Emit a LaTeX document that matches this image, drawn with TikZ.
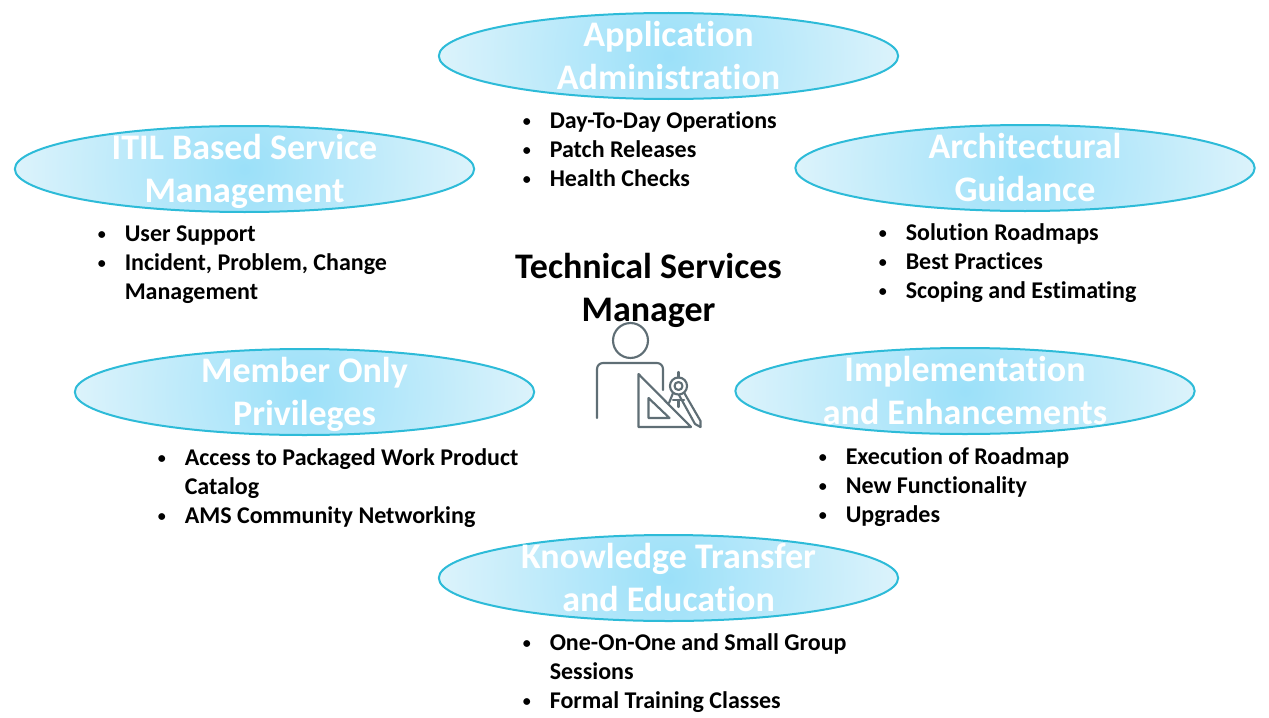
\documentclass[tikz,border=0pt]{standalone}
\usepackage{fontspec}
\setmainfont{Carlito}[Ligatures=NoCommon]
\usetikzlibrary{shapes.geometric}
\definecolor{ovalin}{HTML}{9BE0F9}
\definecolor{ovalout}{HTML}{DCF3FB}
\definecolor{ovalline}{HTML}{2DBBD8}
\definecolor{icongray}{HTML}{5F6E75}
\pgfdeclareradialshading{ovalshade}{\pgfpoint{0bp}{0bp}}{color(0bp)=(ovalin);color(25bp)=(ovalout);color(50bp)=(ovalout)}
\newcommand{\bul}{\makebox[20.25pt][l]{\raisebox{1.2pt}{\fontsize{12}{12}\selectfont•}}}
\newcommand{\cont}{\hspace*{20.25pt}}
\tikzset{
  oval/.style={ellipse,draw=ovalline,line width=1.5pt,minimum width=344.5pt,minimum height=64.5pt,inner sep=0pt,
    path picture={\shade[shading=ovalshade] (path picture bounding box.center) circle (172.5pt);}},
  ovaltext/.style={text=white,font=\bfseries\fontsize{27}{32.25}\selectfont,align=center,inner sep=0pt,yshift=-2.9pt},
  headline/.style={text=black,font=\bfseries\fontsize{27}{32.25}\selectfont,align=center,inner sep=0pt},
  listing/.style={text=black,font=\bfseries\fontsize{18}{21.75}\selectfont,align=left,anchor=north west,inner sep=0pt},
  iconline/.style={draw=icongray,line width=1.6pt,line cap=round,line join=round},
}
\begin{document}
\begin{tikzpicture}[x=0.75pt,y=-0.75pt]
\useasboundingbox (0,0) rectangle (1269,717);
\node[oval] (app) at (668.5,56) {};
\node[ovaltext] (appt) at (app.center) {\strut Application\\\strut Administration};
\node[oval] (itil) at (244.5,169) {};
\node[ovaltext] (itilt) at (itil.center) {\strut ITIL Based Service\\\strut Management};
\node[oval] (arch) at (1025,168) {};
\node[ovaltext] (archt) at (arch.center) {\strut Architectural\\\strut Guidance};
\node[oval] (memb) at (304.5,392) {};
\node[ovaltext] (membt) at (memb.center) {\strut Member Only\\\strut Privileges};
\node[oval] (impl) at (965,391) {};
\node[ovaltext] (implt) at (impl.center) {\strut Implementation\\\strut and Enhancements};
\node[oval] (know) at (668.5,578) {};
\node[ovaltext] (knowt) at (know.center) {\strut Knowledge Transfer\\\strut and Education};
\node[headline] (tsm) at (648.5,291.7) {\strut Technical Services\\\strut Manager};
\node[listing] (l1) at (522.5,107.7) {\strut\bul Day-To-Day Operations\\\strut\bul Patch Releases\\\strut\bul Health Checks};
\node[listing] (l2) at (97.5,220.7) {\strut\bul User Support\\\strut\bul Incident, Problem, Change\\\strut\cont Management};
\node[listing] (l3) at (878.5,219.7) {\strut\bul Solution Roadmaps\\\strut\bul Best Practices\\\strut\bul Scoping and Estimating};
\node[listing] (l4) at (157.5,444.7) {\strut\bul Access to Packaged Work Product\\\strut\cont Catalog\\\strut\bul AMS Community Networking};
\node[listing] (l5) at (818.5,443.7) {\strut\bul Execution of Roadmap\\\strut\bul New Functionality\\\strut\bul Upgrades};
\node[listing] (l6) at (522.5,629.7) {\strut\bul One-On-One and Small Group\\\strut\cont Sessions\\\strut\bul Formal Training Classes};
% icon
\draw[iconline] (630.5,340.5) circle (13.1pt);
\draw[iconline,rounded corners=4.5pt] (597,418) -- (597,363) -- (663,363) -- (663,390);
\draw[iconline] (638.5,374) -- (638.5,427) -- (691,427) -- cycle;
\draw[iconline] (648.5,398) -- (648.5,418) -- (669.5,418) -- cycle;
\draw[iconline] (678.5,386) circle (6.4pt);
\draw[iconline] (678.5,386) circle (3pt);
\draw[iconline] (678.5,372) -- (678.5,377.5);
\draw[iconline] (673,393) -- (669,403);
\draw[iconline] (684,392.5) -- (700.5,421) -- (700.5,427);
\draw[iconline] (679,395) -- (695,424) -- (700.5,427);
\draw[iconline] (673,400) -- (684,400);
\draw[iconline] (678.5,400) -- (678.5,407);
\end{tikzpicture}
\end{document}
